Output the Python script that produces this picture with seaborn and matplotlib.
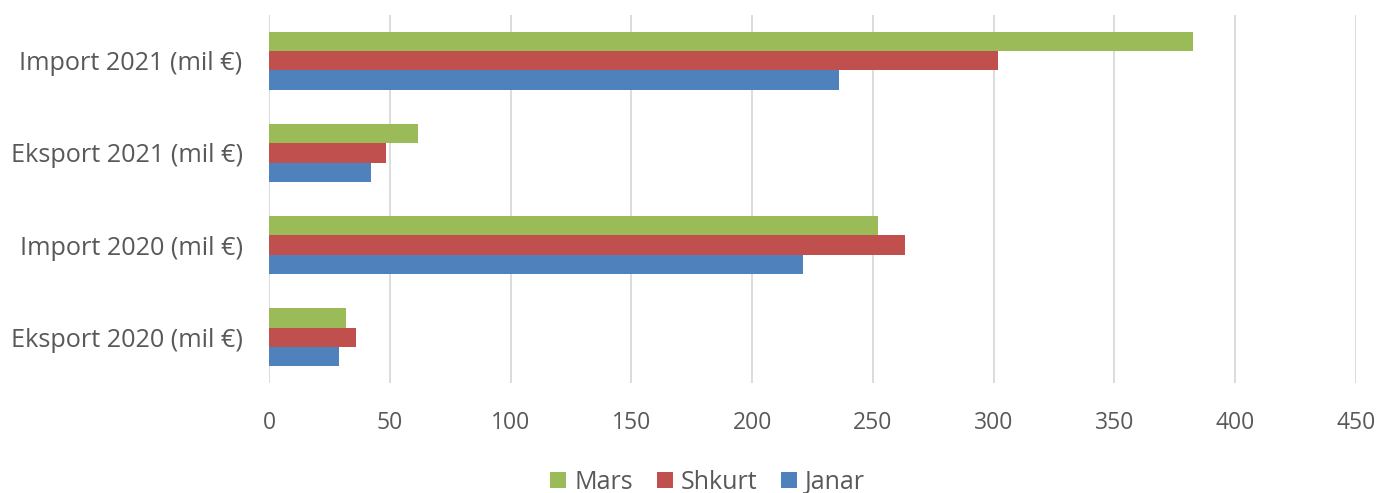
import pandas as pd
import matplotlib.pyplot as plt
import seaborn as sns

# values
categories = ['Import 2021 (mil €)', 'Eksport 2021 (mil €)', 'Import 2020 (mil €)', 'Eksport 2020 (mil €)']
mars = [382.6, 61.7, 252.1, 32.0]
shkurt = [301.7, 48.4, 263.4, 35.9]
janar = [235.8, 42.3, 221.2, 28.8]
months = ['Mars', 'Shkurt', 'Janar']
colors = ['#9BBB59', '#C0504D', '#4F81BD']

df = pd.DataFrame({'Kategoria': categories, 'Mars': mars, 'Shkurt': shkurt, 'Janar': janar})
df_melted = pd.melt(df, id_vars=['Kategoria'], value_vars=months, var_name='Muaji', value_name='Vlera')

sns.set_style('white')
plt.rcParams['font.family'] = ['Open Sans', 'DejaVu Sans']

fig = plt.figure(figsize=(13.93, 4.93), dpi=100)
ax = fig.add_axes([0.1931, 0.2231, 0.7803, 0.7465])

sns.barplot(data=df_melted, y='Kategoria', x='Vlera', hue='Muaji', hue_order=months,
            order=categories, palette=colors, saturation=1, width=0.62, linewidth=0,
            orient='h', ax=ax)

ax.set_xlim(0, 450)
ax.set_ylim(3.5, -0.5)
ax.set_xticks(range(0, 451, 50))
ax.grid(axis='x', color='#d9d9d9', linewidth=1.3)
ax.set_axisbelow(True)
for s in ax.spines.values():
    s.set_visible(False)
ax.set_xlabel('')
ax.set_ylabel('')
ax.tick_params(axis='both', length=0, labelcolor='#595959')
ax.tick_params(axis='x', pad=20, labelsize=16.5)
ax.tick_params(axis='y', pad=19, labelsize=18.2)

ax.legend_.remove()
handles, labels = ax.get_legend_handles_labels()
fig.legend(handles, labels, loc='center', bbox_to_anchor=(0.508, 0.022), ncol=3, frameon=False,
           fontsize=18, labelcolor='#595959', handlelength=0.64, handleheight=0.64,
           handletextpad=0.32, columnspacing=0.96)

fig.savefig('out.png', dpi=100)
